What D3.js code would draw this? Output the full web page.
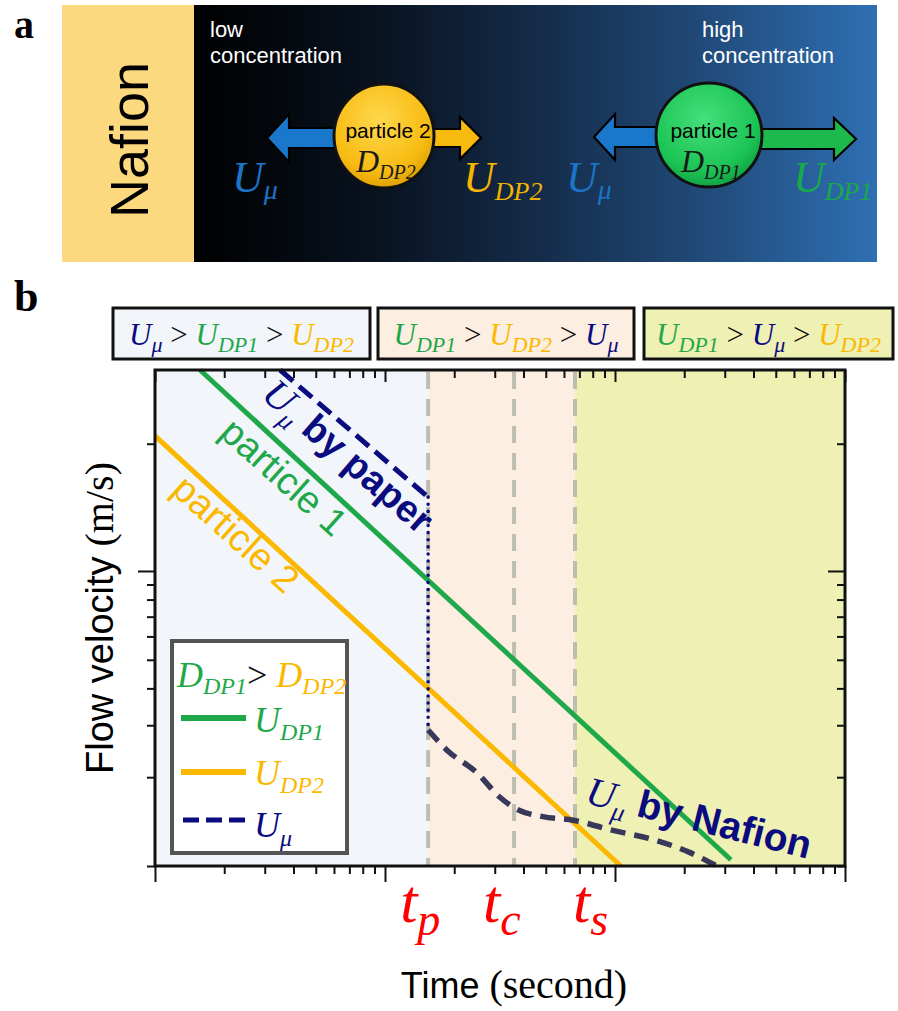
<!DOCTYPE html>
<html><head><meta charset="utf-8">
<script src="https://cdn.jsdelivr.net/npm/d3@7"></script>
<style>body{margin:0;background:#fff}svg{display:block}</style>
</head><body>
<svg id="c" width="898" height="1011"></svg>
<script>
// ---------- data ----------
const xDomain = [1, 1000];
const yDomain = [0.1, 4.8];
const particle1 = [[1.57, 4.8], [319, 0.105]];
const particle2 = [[1, 2.87], [106, 0.1]];
const umuPaper = [[3.5, 4.8], [15.4, 1.78]];
const umuDrop = [[15.4, 1.78], [15.4, 0.289]];
const umuNafion = [[15.4, 0.289], [18.6, 0.247], [25.1, 0.207], [31.6, 0.171], [36.7, 0.157], [48.6, 0.147], [65.7, 0.143], [98, 0.132], [146, 0.123], [212, 0.111], [277, 0.1]];
const timeMarks = [15.4, 36.4, 67];
const timeNames = [["t", "p"], ["t", "c"], ["t", "s"]];
const regionBounds = [[1, 15.4], [15.4, 67], [67, 1000]];
const xMajorTicks = [1, 10, 100, 1000];
const xMinorTicks = [2,3,4,5,6,7,8,9,20,30,40,50,60,70,80,90,200,300,400,500,600,700,800,900];
const yMajorTicks = [1];
const yMinorTicks = [0.1,0.2,0.3,0.4,0.5,0.6,0.7,0.8,0.9,2.7];

// ---------- styles ----------
const SERIF = "'Liberation Serif','Times New Roman',serif";
const SANS = "'Liberation Sans',Arial,sans-serif";
const NAVY = "#0b0b80", GREEN = "#1fa84a", ORANGE = "#fbb800", RED = "#ff0000";
const regionFill = ["#f2f6fb", "#fdeee2", "#eff0b4"];

const svg = d3.select("#c");

function rich(sel, x, y, parts, anchor) {
  const t = sel.append("text").attr("x", x).attr("y", y).attr("text-anchor", anchor || "start");
  let cur = 0;
  parts.forEach(p => {
    const off = p.sub || 0;
    t.append("tspan").attr("dy", off - cur).text(p.t)
      .attr("font-size", p.s).attr("font-family", p.f || SERIF)
      .attr("font-style", p.i ? "italic" : "normal")
      .attr("font-weight", p.w || "normal").attr("fill", p.c || "#000")
      .attr("xml:space", "preserve");
    cur = off;
  });
  return t;
}

// ================= PANEL A =================
const defs = svg.append("defs");
const bg = defs.append("linearGradient").attr("id", "bgGrad").attr("x1", "0").attr("x2", "1").attr("y1", "0").attr("y2", "0");
[["0", "#000000"], ["0.25", "#08111d"], ["0.5", "#142b48"], ["0.75", "#214b7a"], ["1", "#2e6fb3"]].forEach(s => bg.append("stop").attr("offset", s[0]).attr("stop-color", s[1]));
const og = defs.append("radialGradient").attr("id", "oGrad").attr("cx", "0.45").attr("cy", "0.35").attr("r", "0.7");
[["0", "#ffd84d"], ["0.7", "#f7bb12"], ["1", "#d99a00"]].forEach(s => og.append("stop").attr("offset", s[0]).attr("stop-color", s[1]));
const gg = defs.append("radialGradient").attr("id", "gGrad").attr("cx", "0.45").attr("cy", "0.35").attr("r", "0.7");
[["0", "#45e07a"], ["0.7", "#1cc456"], ["1", "#0f9a3e"]].forEach(s => gg.append("stop").attr("offset", s[0]).attr("stop-color", s[1]));

const pa = svg.append("g");
pa.append("rect").attr("x", 62).attr("y", 5).attr("width", 132).attr("height", 257).attr("fill", "#fcd97f");
pa.append("rect").attr("x", 194).attr("y", 5).attr("width", 683).attr("height", 257).attr("fill", "url(#bgGrad)");
pa.append("text").attr("transform", "translate(148,140) rotate(-90)").attr("text-anchor", "middle")
  .attr("font-family", SANS).attr("font-size", 54).attr("fill", "#000").text("Nafion");

pa.append("text").attr("x", 14).attr("y", 38).attr("font-family", SERIF).attr("font-weight", "bold").attr("font-size", 40).text("a");

[[210, "low"], [702, "high"]].forEach(d => {
  pa.append("text").attr("x", d[0]).attr("y", 37).attr("font-family", SANS).attr("font-size", 22).attr("fill", "#fff").text(d[1]);
  pa.append("text").attr("x", d[0]).attr("y", 63).attr("font-family", SANS).attr("font-size", 22).attr("fill", "#fff").text("concentration");
});

function arrow(x0, tipX, cy, shaftH, headH, headLen, fill) {
  const dir = tipX > x0 ? 1 : -1;
  const hb = tipX - dir * headLen;
  const pts = [[x0, cy - shaftH], [hb, cy - shaftH], [hb, cy - headH], [tipX, cy], [hb, cy + headH], [hb, cy + shaftH], [x0, cy + shaftH]];
  pa.append("path").attr("d", d3.line()(pts) + "Z").attr("fill", fill).attr("stroke", "#000").attr("stroke-width", 2.2);
}
arrow(345, 267, 138, 10, 24, 22, "#1a78cc");
arrow(425, 481, 138, 9, 21, 21, "#f7bb10");
arrow(670, 594, 137, 10, 23, 21, "#1a78cc");
arrow(750, 856, 139, 10, 21, 22, "#1db94c");

pa.append("ellipse").attr("cx", 384).attr("cy", 136).attr("rx", 50).attr("ry", 52).attr("fill", "url(#oGrad)").attr("stroke", "#111").attr("stroke-width", 3);
pa.append("ellipse").attr("cx", 709).attr("cy", 135).attr("rx", 53).attr("ry", 52).attr("fill", "url(#gGrad)").attr("stroke", "#111").attr("stroke-width", 3);

pa.append("text").attr("x", 388).attr("y", 138).attr("text-anchor", "middle").attr("font-family", SANS).attr("font-size", 21).text("particle 2");
pa.append("text").attr("x", 713).attr("y", 138).attr("text-anchor", "middle").attr("font-family", SANS).attr("font-size", 21).text("particle 1");
rich(pa, 356, 172, [{t: "D", s: 32, i: 1, c: "#1a1a1a"}, {t: "DP2", s: 20, i: 1, c: "#1a1a1a", sub: 7}]);
rich(pa, 681, 172, [{t: "D", s: 32, i: 1, c: "#1a1a1a"}, {t: "DP1", s: 20, i: 1, c: "#1a1a1a", sub: 7}]);
const UB = "#1b74c6", UO = "#f3b500", UG = "#18aa4a";
rich(pa, 232, 192, [{t: "U", s: 44, i: 1, c: UB}, {t: "μ", s: 28, i: 1, c: UB, sub: 7}]);
rich(pa, 566, 192, [{t: "U", s: 44, i: 1, c: UB}, {t: "μ", s: 28, i: 1, c: UB, sub: 7}]);
rich(pa, 463, 192, [{t: "U", s: 44, i: 1, c: UO}, {t: "DP2", s: 26, i: 1, c: UO, sub: 8}]);
rich(pa, 793, 192, [{t: "U", s: 44, i: 1, c: UG}, {t: "DP1", s: 26, i: 1, c: UG, sub: 8}]);

// ================= PANEL B =================
const L = 155, R = 845, T = 370, B = 866;
const x = d3.scaleLog().domain(xDomain).range([L, R]);
const y = d3.scaleLog().domain(yDomain).range([B, T]);
const pb = svg.append("g");

pb.append("text").attr("x", 14).attr("y", 311).attr("font-family", SERIF).attr("font-weight", "bold").attr("font-size", 44).text("b");

// condition boxes
const boxes = [[113, 370], [378, 634], [644, 893]];
const sub = 22, big = 31;
const boxTexts = [
  [{t: "U", c: NAVY}, {t: "μ", c: NAVY, sub: 1}, {t: " > "}, {t: "U", c: GREEN}, {t: "DP1", c: GREEN, sub: 1}, {t: " > "}, {t: "U", c: ORANGE}, {t: "DP2", c: ORANGE, sub: 1}],
  [{t: "U", c: GREEN}, {t: "DP1", c: GREEN, sub: 1}, {t: " > "}, {t: "U", c: ORANGE}, {t: "DP2", c: ORANGE, sub: 1}, {t: " > "}, {t: "U", c: NAVY}, {t: "μ", c: NAVY, sub: 1}],
  [{t: "U", c: GREEN}, {t: "DP1", c: GREEN, sub: 1}, {t: " > "}, {t: "U", c: NAVY}, {t: "μ", c: NAVY, sub: 1}, {t: " > "}, {t: "U", c: ORANGE}, {t: "DP2", c: ORANGE, sub: 1}]
];
boxes.forEach((b, i) => {
  pb.append("rect").attr("x", b[0]).attr("y", 308).attr("width", b[1] - b[0]).attr("height", 51)
    .attr("fill", regionFill[i]).attr("stroke", "#111").attr("stroke-width", 3);
  rich(pb, (b[0] + b[1]) / 2, 345, boxTexts[i].map(p => p.t === " > " ? {t: " > ", s: big, c: "#111"} :
    {t: p.t, s: p.sub ? sub : big, i: 1, c: p.c, sub: p.sub ? 7 : 0}), "middle");
});

// regions
regionBounds.forEach((r, i) => {
  pb.append("rect").attr("x", x(r[0])).attr("y", T).attr("width", x(r[1]) - x(r[0])).attr("height", B - T).attr("fill", regionFill[i]);
});
// time mark dashed lines
timeMarks.forEach(t => {
  pb.append("line").attr("x1", x(t)).attr("x2", x(t)).attr("y1", T + 2).attr("y2", B)
    .attr("stroke", "#bdbdb2").attr("stroke-width", 4).attr("stroke-dasharray", "17,10");
});

const line = d3.line().x(d => x(d[0])).y(d => y(d[1]));
pb.append("path").attr("d", line(particle2)).attr("stroke", ORANGE).attr("stroke-width", 5).attr("fill", "none");
pb.append("path").attr("d", line(particle1)).attr("stroke", GREEN).attr("stroke-width", 5).attr("fill", "none");
pb.append("path").attr("d", line(umuPaper)).attr("stroke", NAVY).attr("stroke-width", 5).attr("fill", "none").attr("stroke-dasharray", "17,8");
pb.append("path").attr("d", line(umuDrop)).attr("stroke", NAVY).attr("stroke-width", 3.5).attr("fill", "none")
  .attr("stroke-dasharray", "0.1,7").attr("stroke-linecap", "round");
pb.append("path").attr("d", d3.line().x(d => x(d[0])).y(d => y(d[1])).curve(d3.curveMonotoneX)(umuNafion))
  .attr("stroke", "#38385a").attr("stroke-width", 5.5).attr("fill", "none").attr("stroke-dasharray", "15,9");

// annotations on lines
rich(pb.append("g").attr("transform", "translate(260,397) rotate(41)"), 0, 0,
  [{t: "U", s: 40, i: 1, c: NAVY}, {t: "μ", s: 26, i: 1, c: NAVY, sub: 9}, {t: " by paper", s: 38, f: SANS, w: "bold", c: NAVY}]);
pb.append("g").attr("transform", "translate(218,435) rotate(42)").append("text")
  .attr("font-family", SANS).attr("font-size", 38).attr("fill", GREEN).text("particle 1");
pb.append("g").attr("transform", "translate(170,492) rotate(42)").append("text")
  .attr("font-family", SANS).attr("font-size", 38).attr("fill", ORANGE).text("particle 2");
rich(pb.append("g").attr("transform", "translate(584,803) rotate(14)"), 0, 0,
  [{t: "U", s: 40, i: 1, c: NAVY}, {t: "μ", s: 26, i: 1, c: NAVY, sub: 9}, {t: " by Nafion", s: 39, f: SANS, w: "bold", c: NAVY}]);

// legend
const lg = pb.append("g");
lg.append("rect").attr("x", 172).attr("y", 641).attr("width", 175).attr("height", 212).attr("fill", "#fff").attr("stroke", "#555").attr("stroke-width", 4);
rich(lg, 177, 687, [{t: "D", s: 36, i: 1, c: GREEN}, {t: "DP1", s: 24, i: 1, c: GREEN, sub: 7}, {t: ">", s: 36, c: "#111", sub: 0}, {t: " D", s: 36, i: 1, c: ORANGE}, {t: "DP2", s: 24, i: 1, c: ORANGE, sub: 7}]);
lg.append("line").attr("x1", 181).attr("x2", 246).attr("y1", 718).attr("y2", 718).attr("stroke", GREEN).attr("stroke-width", 6);
lg.append("line").attr("x1", 181).attr("x2", 246).attr("y1", 772).attr("y2", 772).attr("stroke", ORANGE).attr("stroke-width", 6);
lg.append("line").attr("x1", 183).attr("x2", 246).attr("y1", 820).attr("y2", 820).attr("stroke", NAVY).attr("stroke-width", 5).attr("stroke-dasharray", "16,7");
rich(lg, 254, 732, [{t: "U", s: 36, i: 1, c: GREEN}, {t: "DP1", s: 24, i: 1, c: GREEN, sub: 8}]);
rich(lg, 254, 785, [{t: "U", s: 36, i: 1, c: ORANGE}, {t: "DP2", s: 24, i: 1, c: ORANGE, sub: 8}]);
rich(lg, 254, 837, [{t: "U", s: 36, i: 1, c: NAVY}, {t: "μ", s: 24, i: 1, c: NAVY, sub: 9}]);

// axes
function ax(gen, vals, size, tx) {
  const g = pb.append("g").attr("transform", tx).call(gen.tickValues(vals).tickSize(size).tickFormat(""));
  g.select(".domain").remove();
  g.selectAll(".tick line").attr("stroke", "#111").attr("stroke-width", 2);
}
ax(d3.axisBottom(x), xMajorTicks, 16, `translate(0,${B})`);
ax(d3.axisBottom(x), xMinorTicks, 8, `translate(0,${B})`);
ax(d3.axisTop(x), xMajorTicks, -12, `translate(0,${T})`);
ax(d3.axisTop(x), xMinorTicks, -8, `translate(0,${T})`);
ax(d3.axisLeft(y), yMajorTicks, 17, `translate(${L},0)`);
ax(d3.axisLeft(y), yMinorTicks, 8, `translate(${L},0)`);
ax(d3.axisRight(y), yMajorTicks, -17, `translate(${R},0)`);
ax(d3.axisRight(y), yMinorTicks, -8, `translate(${R},0)`);
pb.append("rect").attr("x", L).attr("y", T).attr("width", R - L).attr("height", B - T).attr("fill", "none").attr("stroke", "#111").attr("stroke-width", 3);

// time labels
const tOff = [-28, -31, -2];
timeMarks.forEach((t, i) => {
  rich(pb, x(t) + tOff[i], 922, [{t: timeNames[i][0], s: 62, i: 1, c: RED}, {t: timeNames[i][1], s: 46, i: 1, c: RED, sub: 13}]);
});

// axis titles
rich(pb, 514, 998, [{t: "Time", s: 36, f: SANS}, {t: " (second)", s: 40}], "middle");
rich(pb.append("g").attr("transform", "translate(113,618) rotate(-90)"), 0, 0, [{t: "Flow velocity", s: 38, f: SANS}, {t: " (m/s)", s: 40}], "middle");
</script>
</body></html>
